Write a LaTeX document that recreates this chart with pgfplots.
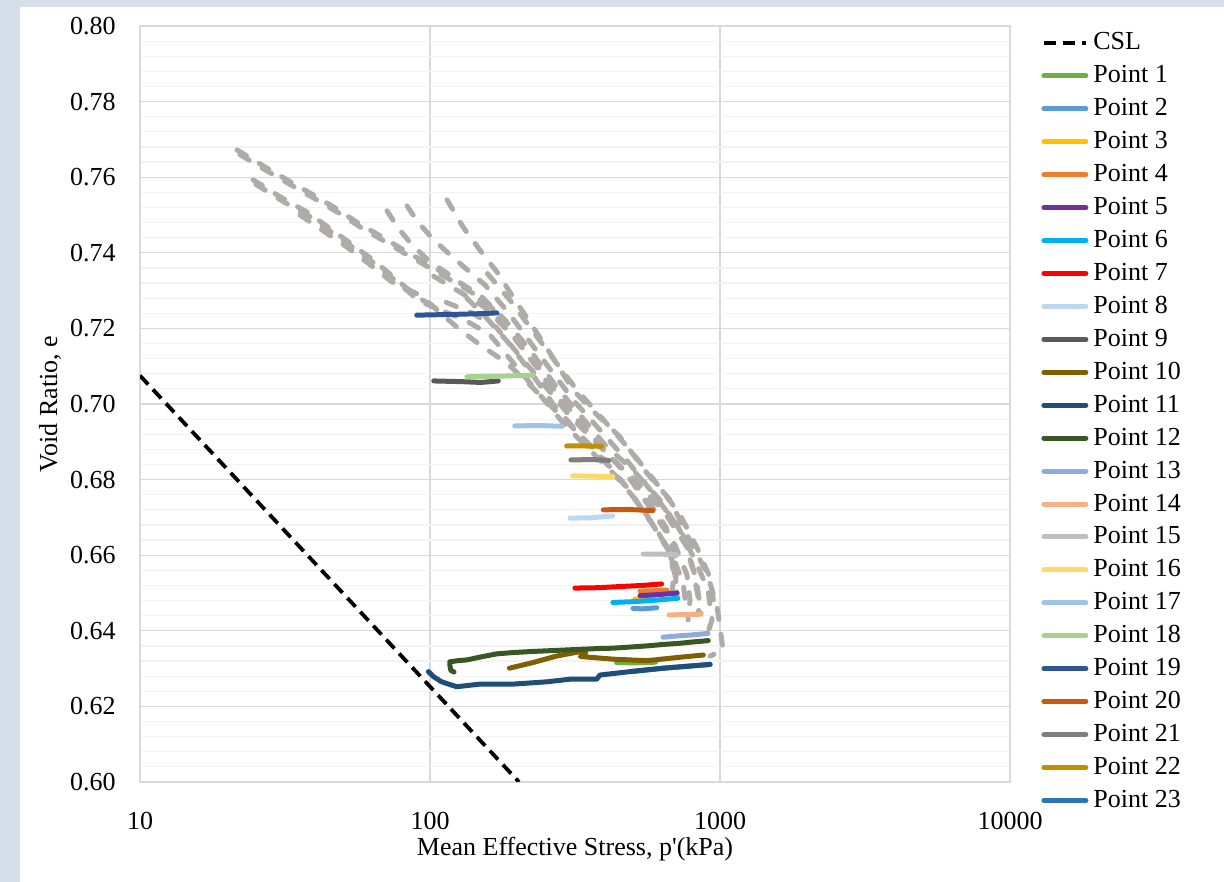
\documentclass[border=0pt]{standalone}
\usepackage{fontspec}
\setmainfont{Liberation Serif}
\usepackage{pgfplots}
\pgfplotsset{compat=1.18}

\definecolor{stripbg}{RGB}{214,222,234}
\definecolor{gridmaj}{RGB}{217,217,217}
\definecolor{gridmin}{RGB}{242,242,242}
\definecolor{pathgray}{RGB}{175,171,171}
\definecolor{c1}{HTML}{70AD47}
\definecolor{c2}{HTML}{5B9BD5}
\definecolor{c3}{HTML}{FFC000}
\definecolor{c4}{HTML}{ED7D31}
\definecolor{c5}{HTML}{7030A0}
\definecolor{c6}{HTML}{00B0F0}
\definecolor{c7}{HTML}{FF0000}
\definecolor{c8}{HTML}{BDD7EE}
\definecolor{c9}{HTML}{595959}
\definecolor{c10}{HTML}{7F6000}
\definecolor{c11}{HTML}{1F4E79}
\definecolor{c12}{HTML}{385723}
\definecolor{c13}{HTML}{8FAADC}
\definecolor{c14}{HTML}{F4B183}
\definecolor{c15}{HTML}{BFBFBF}
\definecolor{c16}{HTML}{FFD966}
\definecolor{c17}{HTML}{9DC3E6}
\definecolor{c18}{HTML}{A9D18E}
\definecolor{c19}{HTML}{2F5597}
\definecolor{c20}{HTML}{C55A11}
\definecolor{c21}{HTML}{7F7F7F}
\definecolor{c22}{HTML}{BF9000}
\definecolor{c23}{HTML}{2E75B6}

\pgfplotsset{
  pt/.style={line width=2.5bp, line cap=round, line join=round},
  gdash/.style={pathgray, line width=2.5bp, line cap=round, line join=round,
                dash pattern=on 5.5bp off 7.5bp, forget plot},
}

\begin{document}
\begin{tikzpicture}
\path[use as bounding box] (0,0) rectangle (612bp,441bp);
\fill[stripbg] (0,0) rectangle (612bp,441bp);
\fill[white] (10bp,0) rectangle (612bp,437.5bp);
\begin{axis}[
  at={(70bp,50bp)}, anchor=south west,
  scale only axis, width=435bp, height=378bp,
  xmode=log, xmin=10, xmax=10000, ymin=0.6, ymax=0.8,
  xtick={10,100,1000,10000}, xticklabels={10,100,1000,10000},
  minor xtick={},
  ytick={0.60,0.62,0.64,0.66,0.68,0.70,0.72,0.74,0.76,0.78,0.80},
  yticklabels={0.60,0.62,0.64,0.66,0.68,0.70,0.72,0.74,0.76,0.78,0.80},
  minor ytick={0.604,0.608,0.612,0.616,0.624,0.628,0.632,0.636,0.644,0.648,0.652,0.656,
               0.664,0.668,0.672,0.676,0.684,0.688,0.692,0.696,0.704,0.708,0.712,0.716,
               0.724,0.728,0.732,0.736,0.744,0.748,0.752,0.756,0.764,0.768,0.772,0.776,
               0.784,0.788,0.792,0.796},
  xmajorgrids, ymajorgrids, yminorgrids,
  major grid style={gridmaj, line width=0.6bp},
  minor grid style={gridmin, line width=0.6bp},
  axis line style={gridmaj, line width=0.6bp},
  major tick length=0pt, minor tick length=0pt,
  tick label style={font=\fontsize{13bp}{15bp}\selectfont, black},
  xticklabel style={anchor=center, yshift=-19.5bp},
  yticklabel style={anchor=east, inner xsep=0pt, xshift=-12bp},
  xlabel={Mean Effective Stress, p\textquotesingle(kPa)},
  ylabel={Void Ratio, e},
  label style={font=\fontsize{13bp}{15bp}\selectfont},
  xlabel style={at={(axis description cs:0.5,-0.0885)}, anchor=center},
  ylabel style={at={(axis description cs:-0.1034,0.5)}, anchor=center, rotate=0},
  legend style={at={(1.0356,1.0)}, anchor=north west, draw=none, fill=none,
    inner sep=0pt, font=\fontsize{13bp}{15bp}\selectfont,
    nodes={text height=9.5bp, text depth=2.5bp, inner ysep=2.235bp, inner xsep=2.5bp},
    row sep=0pt, column sep=0pt},
  legend cell align=left,
  legend image code/.code={\draw[#1] (1.25bp,0bp) -- (22.25bp,0bp);},
  clip=true,
]

% loading / shearing paths (grey dashed)
\addplot[gdash] coordinates {
 (114.5,0.7540) (130.0,0.7468) (148.7,0.7407) (170.2,0.7349) (196.4,0.7275)
 (226.6,0.7204) (265.6,0.7122) (311.3,0.7037) (376.7,0.6971) (452.0,0.6913)
 (560.2,0.6817) (672.4,0.6746) (807.0,0.6622) (902.0,0.6553) (976.5,0.6463)
 (1000,0.6410) (1024,0.6349) (923.7,0.6333)};
\addplot[gdash] coordinates {
 (21.60,0.7672) (26.35,0.7632) (32.14,0.7593) (38.57,0.7558) (47.03,0.7519)
 (56.46,0.7479) (68.31,0.7442) (82.00,0.7405) (100,0.7368) (122.0,0.7328)
 (148.7,0.7288) (181.4,0.7222) (221.3,0.7143) (269.8,0.7050) (329.0,0.6971)
 (401.2,0.6892) (501.2,0.6825) (621.0,0.6746) (745.6,0.6653) (807,0.6561)
 (853.1,0.6463) (833.1,0.6442)};
\addplot[gdash] coordinates {
 (22.10,0.7660) (26.95,0.7620) (32.90,0.7581) (39.45,0.7546) (48.10,0.7507)
 (57.80,0.7467) (69.90,0.7430) (84.00,0.7393) (102,0.7356) (124.0,0.7318)
 (150.0,0.7280) (181.4,0.7222)};
\addplot[gdash] coordinates {
 (24.54,0.7593) (30.89,0.7545) (37.66,0.7508) (44.49,0.7468) (52.98,0.7426)
 (63.60,0.7381) (75.75,0.7333) (90.20,0.7283) (108.3,0.7249) (132.1,0.7222)
 (161.0,0.7183) (196.4,0.7103) (239.5,0.7024) (292.1,0.6944) (356.2,0.6878)
 (434.5,0.6812) (529.8,0.6733) (621.0,0.6653) (683.2,0.6587) (688.6,0.6521)
 (672.4,0.6481)};
\addplot[gdash] coordinates {
 (25.10,0.7581) (31.60,0.7533) (38.50,0.7496) (45.50,0.7456) (54.20,0.7414)
 (65.00,0.7369) (77.50,0.7321) (92.00,0.7272) (108.3,0.7249)};
\addplot[gdash] coordinates {
 (35.62,0.7500) (43.44,0.7455) (51.73,0.7415) (61.12,0.7373) (73.95,0.7323)
 (92.36,0.7288) (126.9,0.7196) (152.3,0.7151) (184.3,0.7108) (221.3,0.7050)
 (259.3,0.6997) (316.2,0.6931) (385.7,0.6865) (470.3,0.6786) (573.6,0.6693)
 (661.8,0.6614) (699.6,0.6548) (711.1,0.6495)};
\addplot[gdash] coordinates {
 (71.06,0.7511) (77.58,0.7466) (86.69,0.7421) (100,0.7376) (117.2,0.7341)
 (137.4,0.7302) (161.0,0.7249) (191.8,0.7183) (230.2,0.7103) (276.3,0.7016)
 (334.3,0.6944) (407.6,0.6873) (497.3,0.6794) (596.9,0.6706) (699.6,0.6627)
 (769.6,0.6548) (788.1,0.6481) (775.6,0.6429)};
\addplot[gdash] coordinates {
 (83.32,0.7524) (90.92,0.7481) (101.6,0.7439) (114.5,0.7402) (132.1,0.7360)
 (154.7,0.7315) (185.8,0.7243) (221.3,0.7164) (263.5,0.7085) (316.2,0.7005)
 (385.7,0.6931) (481.7,0.6847) (582.9,0.6767) (711.1,0.6680) (820.1,0.6587)
 (909.1,0.6508) (938.5,0.6429) (909.1,0.6397)};
\addplot[gdash] coordinates {
 (103,0.7338) (125.7,0.7298) (153,0.7258) (186.8,0.7192) (228,0.7113)
 (278,0.7020) (339,0.6941) (413,0.6862) (516,0.6795) (640,0.6716)
 (768,0.6623) (831,0.6531) (860,0.6445)};
\addplot[gdash] coordinates {
 (113.7,0.7269) (138.7,0.7242) (169,0.7203) (206,0.7123) (251.5,0.7044)
 (306.7,0.6964) (374,0.6898) (456,0.6832) (556,0.6753) (652,0.6673)
 (700,0.6600) (705,0.6530)};
\addplot[gdash] coordinates {
 (134,0.7280) (156,0.7229) (186,0.7163) (223,0.7083) (268,0.6996)
 (324,0.6924) (395,0.6853) (482,0.6774) (579,0.6686) (678,0.6607)
 (746,0.6528) (764,0.6461)};
\addplot[gdash] coordinates {
 (157.8,0.7345) (189.5,0.7273) (225.7,0.7194) (268.8,0.7115) (322.5,0.7035)
 (393.4,0.6961) (491.3,0.6877) (594.6,0.6797) (725,0.6710) (836.5,0.6617)
 (927,0.6538) (957,0.6459)};

% critical state line
\addplot[black, line width=1.9bp, dash pattern=on 6bp off 3.5bp] coordinates {
 (10,0.7075) (202.7,0.6000)};
\addlegendentry{CSL}

% undrained stress paths
\addplot[pt, c1] coordinates {(440,0.6316) (520,0.6315) (600,0.6317)};
\addlegendentry{Point 1}
\addplot[pt, c2] coordinates {(501,0.6459) (540,0.6458) (605,0.6461)};
\addlegendentry{Point 2}
\addplot[pt, c3] coordinates {(509,0.6484) (588,0.6485)};
\addlegendentry{Point 3}
\addplot[pt, c4] coordinates {(530,0.6505) (600,0.6506) (655,0.6508)};
\addlegendentry{Point 4}
\addplot[pt, c5] coordinates {(530,0.6493) (620,0.6496) (711,0.6500)};
\addlegendentry{Point 5}
\addplot[pt, c6] coordinates {(427,0.6475) (500,0.6477) (600,0.6481) (716,0.6486)};
\addlegendentry{Point 6}
\addplot[pt, c7] coordinates {(316,0.6513) (380,0.6514) (450,0.6517) (540,0.6520) (629,0.6524)};
\addlegendentry{Point 7}
\addplot[pt, c8] coordinates {(304,0.6698) (360,0.6699) (427,0.6704)};
\addlegendentry{Point 8}
\addplot[pt, c9] coordinates {(103,0.7061) (130,0.7059) (150,0.7057) (172,0.7061)};
\addlegendentry{Point 9}
\addplot[pt, c10] coordinates {
 (187.8,0.6301) (226.5,0.6316) (272.7,0.6333) (329,0.6345) (345,0.6343)
 (330,0.6332) (427,0.6325) (559,0.6321) (728,0.6330) (876,0.6336)};
\addlegendentry{Point 10}
% Point 23 sits beneath Point 11
\addplot[pt, c23, forget plot] coordinates {(490,0.6292) (636,0.6301) (924,0.6311)};
\addplot[pt, c11] coordinates {
 (98.7,0.6292) (102.7,0.6279) (109.7,0.6265) (123.6,0.6252) (148.7,0.6259)
 (193.8,0.6259) (252.6,0.6265) (304,0.6272) (375.5,0.6272) (385.8,0.6283)
 (489.6,0.6292) (636,0.6301) (924,0.6311)};
\addlegendentry{Point 11}
\addplot[pt, c12] coordinates {
 (121,0.6291) (118,0.6295) (117,0.6310) (117,0.6318) (125,0.6321) (134,0.6323)
 (150,0.6331) (170,0.6339) (190,0.6342) (221,0.6345) (270,0.6348) (329,0.6351)
 (380,0.6353) (427,0.6354) (490,0.6357) (559,0.6360) (640,0.6364) (728,0.6367)
 (820,0.6371) (911,0.6374)};
\addlegendentry{Point 12}
\addplot[pt, c13] coordinates {(636,0.6383) (700,0.6386) (800,0.6389) (909,0.6393)};
\addlegendentry{Point 13}
\addplot[pt, c14] coordinates {(667,0.6442) (760,0.6443) (860,0.6444)};
\addlegendentry{Point 14}
\addplot[pt, c15] coordinates {(543,0.6603) (620,0.6603) (711,0.6601)};
\addlegendentry{Point 15}
\addplot[pt, c16] coordinates {(310,0.6810) (370,0.6809) (427,0.6808)};
\addlegendentry{Point 16}
\addplot[pt, c17] coordinates {(196,0.6942) (240,0.6943) (285,0.6941)};
\addlegendentry{Point 17}
\addplot[pt, c18] coordinates {(134,0.7072) (180,0.7074) (227,0.7076)};
\addlegendentry{Point 18}
\addplot[pt, c19] coordinates {(90,0.7235) (120,0.7237) (150,0.7239) (170,0.7241)};
\addlegendentry{Point 19}
\addplot[pt, c20] coordinates {(396,0.6720) (480,0.6721) (587,0.6718)};
\addlegendentry{Point 20}
\addplot[pt, c21] coordinates {(306,0.6852) (360,0.6853) (414,0.6851)};
\addlegendentry{Point 21}
\addplot[pt, c22] coordinates {(296,0.6889) (340,0.6889) (391,0.6888)};
\addlegendentry{Point 22}
\addlegendimage{pt, c23}
\addlegendentry{Point 23}
\end{axis}
\end{tikzpicture}
\end{document}
